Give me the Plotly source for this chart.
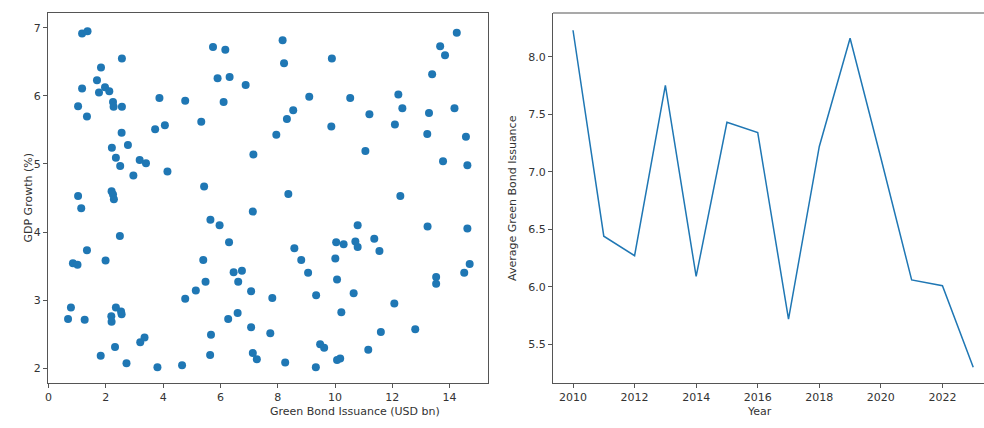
import plotly.graph_objects as go

# ---- data: left scatter ----
green_bond_issuance = [
    1.17, 1.36, 2.56, 1.83, 1.69, 1.17, 1.97, 2.12, 1.76, 1.03, 2.25, 2.27, 2.56, 1.34,
    3.87, 4.77, 5.33, 3.72, 4.06, 2.55, 2.21, 2.77, 2.35, 2.50, 3.18, 3.40, 2.96, 4.15,
    5.43, 1.03, 1.14, 2.20, 2.25, 2.28, 5.74, 6.17, 5.90, 6.32, 6.11, 6.88, 7.15, 7.13,
    5.65, 8.17, 8.22, 9.89, 9.10, 10.53, 8.54, 8.32, 7.95, 9.87, 12.21, 12.35, 11.20,
    12.09, 13.28, 14.17, 13.22, 14.57, 14.25, 13.67, 13.84, 13.39, 11.06, 13.77, 14.62,
    8.37, 12.28, 5.97, 2.49, 6.30, 1.34, 0.85, 1.01, 1.99, 5.40, 6.46, 6.75, 6.62, 5.48,
    5.14, 4.77, 0.78, 0.68, 1.26, 2.35, 2.53, 2.55, 2.19, 2.20, 6.27, 6.60, 3.20, 3.35,
    2.32, 1.82, 2.72, 3.80, 4.66, 5.67, 5.64, 10.79, 13.23, 14.62, 11.37, 10.04, 10.30,
    10.71, 10.79, 11.55, 8.58, 8.82, 10.01, 9.06, 10.07, 7.07, 7.81, 9.34, 10.65, 12.07,
    13.53, 13.53, 14.51, 14.70, 10.22, 7.07, 7.74, 12.80, 11.60, 9.48, 9.62, 7.13, 7.27,
    8.26, 9.33, 10.07, 10.18, 11.16,
]
gdp_growth = [
    6.92, 6.95, 6.55, 6.42, 6.23, 6.11, 6.13, 6.07, 6.05, 5.85, 5.91, 5.84, 5.84, 5.70,
    5.97, 5.93, 5.62, 5.51, 5.57, 5.46, 5.24, 5.28, 5.09, 4.97, 5.06, 5.01, 4.83, 4.89,
    4.67, 4.53, 4.35, 4.60, 4.55, 4.48, 6.72, 6.68, 6.26, 6.28, 5.91, 6.16, 5.14, 4.30,
    4.18, 6.82, 6.48, 6.55, 5.99, 5.97, 5.79, 5.66, 5.43, 5.55, 6.02, 5.82, 5.73,
    5.58, 5.75, 5.82, 5.44, 5.40, 6.93, 6.73, 6.60, 6.32, 5.19, 5.04, 4.98,
    4.56, 4.53, 4.10, 3.94, 3.85, 3.73, 3.54, 3.52, 3.58, 3.59, 3.41, 3.43, 3.27, 3.27,
    3.14, 3.02, 2.89, 2.72, 2.71, 2.89, 2.83, 2.79, 2.76, 2.68, 2.72, 2.81, 2.38, 2.45,
    2.31, 2.18, 2.07, 2.01, 2.04, 2.49, 2.19, 4.10, 4.08, 4.05, 3.90, 3.85, 3.82,
    3.86, 3.78, 3.72, 3.76, 3.59, 3.61, 3.40, 3.30, 3.13, 3.03, 3.07, 3.10, 2.95,
    3.34, 3.24, 3.40, 3.53, 2.82, 2.60, 2.51, 2.57, 2.53, 2.35, 2.30, 2.22, 2.13,
    2.08, 2.01, 2.12, 2.14, 2.27,
]

# ---- data: right line ----
years = [2010, 2011, 2012, 2013, 2014, 2015, 2016, 2017, 2018, 2019, 2020, 2021, 2022, 2023]
avg_issuance = [8.23, 6.44, 6.27, 7.75, 6.09, 7.43, 7.34, 5.72, 7.22, 8.16, 7.12, 6.06, 6.01, 5.30]

left_x_ticks = [0, 2, 4, 6, 8, 10, 12, 14]
left_y_ticks = [2, 3, 4, 5, 6, 7]
right_x_ticks = [2010, 2012, 2014, 2016, 2018, 2020, 2022]
right_y_ticks = [5.5, 6.0, 6.5, 7.0, 7.5, 8.0]

BLUE = "#1f77b4"
SPINE = "#555555"
FONT = "DejaVu Sans"
W, H = 984, 428

def px_x(p):
    return p / W

def px_y(p):
    return (H - p) / H

fig = go.Figure()
fig.add_trace(go.Scatter(
    x=green_bond_issuance, y=gdp_growth, mode="markers",
    marker=dict(color=BLUE, size=8, line=dict(width=0)),
    xaxis="x", yaxis="y", showlegend=False,
))
fig.add_trace(go.Scatter(
    x=years, y=avg_issuance, mode="lines",
    line=dict(color=BLUE, width=1.5),
    xaxis="x2", yaxis="y2", showlegend=False,
))

axis_common = dict(
    showgrid=False, zeroline=False, showline=True, linecolor=SPINE, linewidth=1.2,
    ticks="outside", ticklen=4, tickwidth=1, tickcolor=SPINE,
    tickfont=dict(family=FONT, size=11, color="#333333"), automargin=False,
)

ydom = [px_y(383), px_y(13)]

fig.update_layout(
    width=W, height=H,
    margin=dict(l=0, r=0, t=0, b=0),
    paper_bgcolor="white", plot_bgcolor="white",
    xaxis=dict(domain=[px_x(48), px_x(488)], range=[-0.02, 15.34],
               tickvals=left_x_ticks, anchor="y", mirror=True, **axis_common),
    yaxis=dict(domain=ydom, range=[1.78, 7.22],
               tickvals=left_y_ticks, anchor="x", mirror=True, **axis_common),
    xaxis2=dict(domain=[px_x(553), 1.0], range=[2009.35, 2023.35],
                tickvals=right_x_ticks, anchor="y2", **axis_common),
    yaxis2=dict(domain=ydom, range=[5.164, 8.38],
                tickvals=right_y_ticks, tickformat=".1f", anchor="x2", **axis_common),
    shapes=[dict(type="line", xref="paper", yref="paper",
                 x0=px_x(553), x1=1.0, y0=ydom[1], y1=ydom[1],
                 line=dict(color=SPINE, width=1.2))],
    annotations=[
        dict(text="GDP Growth (%)", x=px_x(19), y=px_y(198), xref="paper", yref="paper",
             textangle=-90, showarrow=False, font=dict(family=FONT, size=11, color="#333333")),
        dict(text="Green Bond Issuance (USD bn)", x=px_x(268), y=px_y(420), xref="paper", yref="paper",
             showarrow=False, font=dict(family=FONT, size=11, color="#333333")),
        dict(text="Average Green Bond Issuance", x=px_x(512), y=px_y(198), xref="paper", yref="paper",
             textangle=-90, showarrow=False, font=dict(family=FONT, size=11, color="#333333")),
        dict(text="Year", x=px_x(774), y=px_y(420), xref="paper", yref="paper",
             showarrow=False, font=dict(family=FONT, size=11, color="#333333")),
    ],
)

fig.write_html(
    "out.html",
    config={"displayModeBar": False},
    post_script="document.body.style.margin='0';document.body.style.overflow='hidden';",
)
